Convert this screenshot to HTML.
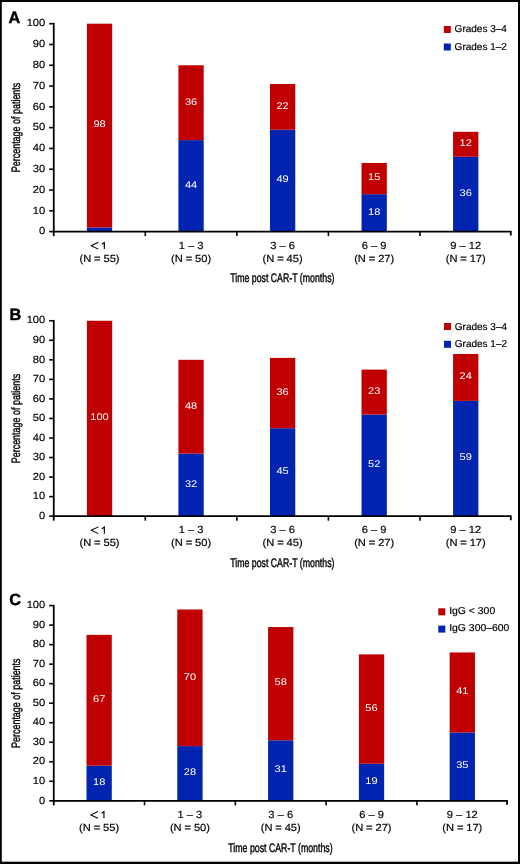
<!DOCTYPE html><html><head><meta charset="utf-8"><style>
html,body{margin:0;padding:0;background:#fff;}
body{width:520px;height:864px;overflow:hidden;position:relative;}
svg{position:absolute;left:0;top:0;will-change:transform;}
text{font-family:"Liberation Sans", sans-serif;text-rendering:geometricPrecision;}
</style></head><body>
<svg width="520" height="864" viewBox="0 0 520 864">
<rect x="0" y="0" width="520" height="864" fill="#fff"/>
<text x="8.60" y="22.90" font-size="16.30" font-weight="bold" fill="#000" stroke="#000" stroke-width="0.45">A</text>
<text transform="translate(20.3 127.45) rotate(-90) scale(0.734 1)" font-size="12.2" text-anchor="middle" fill="#000" stroke="#000" stroke-width="0.40">Percentage of patients</text>
<rect x="86.88" y="227.44" width="25.30" height="4.16" fill="#0023b0"/>
<rect x="86.88" y="23.70" width="25.30" height="203.74" fill="#c00000"/>
<text transform="translate(99.53 127.37) scale(1.140 1)" font-size="9.70" text-anchor="middle" fill="#fff" stroke="#fff" stroke-width="0.00" stroke-linejoin="round">98</text>
<path d="M98.33 242.30 L91.23 245.70 L98.33 249.10" stroke="#000" stroke-width="1.05" fill="none" stroke-linejoin="miter"/>
<path d="M101.93 244.20 L104.33 242.50 V249.10" stroke="#000" stroke-width="1.15" fill="none" stroke-linejoin="miter"/>
<text transform="translate(99.53 261.80) scale(1.080 1)" font-size="10.30" text-anchor="middle" fill="#000" stroke="#000" stroke-width="0.18" stroke-linejoin="round">(N <tspan font-weight="bold" dx="0.6">=</tspan><tspan dx="0.6"> </tspan>55)</text>
<rect x="178.42" y="140.12" width="25.30" height="91.48" fill="#0023b0"/>
<rect x="178.42" y="65.28" width="25.30" height="74.84" fill="#c00000"/>
<text transform="translate(191.07 187.66) scale(1.140 1)" font-size="9.70" text-anchor="middle" fill="#fff" stroke="#fff" stroke-width="0.00" stroke-linejoin="round">44</text>
<text transform="translate(191.07 104.50) scale(1.140 1)" font-size="9.70" text-anchor="middle" fill="#fff" stroke="#fff" stroke-width="0.00" stroke-linejoin="round">36</text>
<text transform="translate(191.07 248.90) scale(1.080 1)" font-size="10.30" text-anchor="middle" fill="#000" stroke="#000" stroke-width="0.18" stroke-linejoin="round">1 – 3</text>
<text transform="translate(191.07 261.80) scale(1.080 1)" font-size="10.30" text-anchor="middle" fill="#000" stroke="#000" stroke-width="0.18" stroke-linejoin="round">(N <tspan font-weight="bold" dx="0.6">=</tspan><tspan dx="0.6"> </tspan>50)</text>
<rect x="269.98" y="129.73" width="25.30" height="101.87" fill="#0023b0"/>
<rect x="269.98" y="83.99" width="25.30" height="45.74" fill="#c00000"/>
<text transform="translate(282.62 182.46) scale(1.140 1)" font-size="9.70" text-anchor="middle" fill="#fff" stroke="#fff" stroke-width="0.00" stroke-linejoin="round">49</text>
<text transform="translate(282.62 108.66) scale(1.140 1)" font-size="9.70" text-anchor="middle" fill="#fff" stroke="#fff" stroke-width="0.00" stroke-linejoin="round">22</text>
<text transform="translate(282.62 248.90) scale(1.080 1)" font-size="10.30" text-anchor="middle" fill="#000" stroke="#000" stroke-width="0.18" stroke-linejoin="round">3 – 6</text>
<text transform="translate(282.62 261.80) scale(1.080 1)" font-size="10.30" text-anchor="middle" fill="#000" stroke="#000" stroke-width="0.18" stroke-linejoin="round">(N <tspan font-weight="bold" dx="0.6">=</tspan><tspan dx="0.6"> </tspan>45)</text>
<rect x="361.53" y="194.18" width="25.30" height="37.42" fill="#0023b0"/>
<rect x="361.53" y="162.99" width="25.30" height="31.19" fill="#c00000"/>
<text transform="translate(374.18 214.69) scale(1.140 1)" font-size="9.70" text-anchor="middle" fill="#fff" stroke="#fff" stroke-width="0.00" stroke-linejoin="round">18</text>
<text transform="translate(374.18 180.39) scale(1.140 1)" font-size="9.70" text-anchor="middle" fill="#fff" stroke="#fff" stroke-width="0.00" stroke-linejoin="round">15</text>
<text transform="translate(374.18 248.90) scale(1.080 1)" font-size="10.30" text-anchor="middle" fill="#000" stroke="#000" stroke-width="0.18" stroke-linejoin="round">6 – 9</text>
<text transform="translate(374.18 261.80) scale(1.080 1)" font-size="10.30" text-anchor="middle" fill="#000" stroke="#000" stroke-width="0.18" stroke-linejoin="round">(N <tspan font-weight="bold" dx="0.6">=</tspan><tspan dx="0.6"> </tspan>27)</text>
<rect x="453.07" y="156.76" width="25.30" height="74.84" fill="#0023b0"/>
<rect x="453.07" y="131.81" width="25.30" height="24.95" fill="#c00000"/>
<text transform="translate(465.72 195.98) scale(1.140 1)" font-size="9.70" text-anchor="middle" fill="#fff" stroke="#fff" stroke-width="0.00" stroke-linejoin="round">36</text>
<text transform="translate(465.72 146.08) scale(1.140 1)" font-size="9.70" text-anchor="middle" fill="#fff" stroke="#fff" stroke-width="0.00" stroke-linejoin="round">12</text>
<text transform="translate(465.72 248.90) scale(1.080 1)" font-size="10.30" text-anchor="middle" fill="#000" stroke="#000" stroke-width="0.18" stroke-linejoin="round">9 – 12</text>
<text transform="translate(465.72 261.80) scale(1.080 1)" font-size="10.30" text-anchor="middle" fill="#000" stroke="#000" stroke-width="0.18" stroke-linejoin="round">(N <tspan font-weight="bold" dx="0.6">=</tspan><tspan dx="0.6"> </tspan>17)</text>
<path d="M53.75 22.90 V236.10" stroke="#000" stroke-width="1.8" fill="none"/>
<path d="M52.75 231.60 H510.80 V235.60" stroke="#000" stroke-width="1.8" fill="none"/>
<path d="M145.30 231.60 V236.10" stroke="#000" stroke-width="1.6" fill="none"/>
<path d="M236.85 231.60 V236.10" stroke="#000" stroke-width="1.6" fill="none"/>
<path d="M328.40 231.60 V236.10" stroke="#000" stroke-width="1.6" fill="none"/>
<path d="M419.95 231.60 V236.10" stroke="#000" stroke-width="1.6" fill="none"/>
<path d="M49.20 231.60 H53.75" stroke="#000" stroke-width="1.6" fill="none"/>
<text transform="translate(45.20 234.30) scale(1.080 1)" font-size="10.30" text-anchor="end" fill="#000" stroke="#000" stroke-width="0.18" stroke-linejoin="round">0</text>
<path d="M49.20 210.81 H53.75" stroke="#000" stroke-width="1.6" fill="none"/>
<text transform="translate(45.20 213.51) scale(1.080 1)" font-size="10.30" text-anchor="end" fill="#000" stroke="#000" stroke-width="0.18" stroke-linejoin="round">10</text>
<path d="M49.20 190.02 H53.75" stroke="#000" stroke-width="1.6" fill="none"/>
<text transform="translate(45.20 192.72) scale(1.080 1)" font-size="10.30" text-anchor="end" fill="#000" stroke="#000" stroke-width="0.18" stroke-linejoin="round">20</text>
<path d="M49.20 169.23 H53.75" stroke="#000" stroke-width="1.6" fill="none"/>
<text transform="translate(45.20 171.93) scale(1.080 1)" font-size="10.30" text-anchor="end" fill="#000" stroke="#000" stroke-width="0.18" stroke-linejoin="round">30</text>
<path d="M49.20 148.44 H53.75" stroke="#000" stroke-width="1.6" fill="none"/>
<text transform="translate(45.20 151.14) scale(1.080 1)" font-size="10.30" text-anchor="end" fill="#000" stroke="#000" stroke-width="0.18" stroke-linejoin="round">40</text>
<path d="M49.20 127.65 H53.75" stroke="#000" stroke-width="1.6" fill="none"/>
<text transform="translate(45.20 130.35) scale(1.080 1)" font-size="10.30" text-anchor="end" fill="#000" stroke="#000" stroke-width="0.18" stroke-linejoin="round">50</text>
<path d="M49.20 106.86 H53.75" stroke="#000" stroke-width="1.6" fill="none"/>
<text transform="translate(45.20 109.56) scale(1.080 1)" font-size="10.30" text-anchor="end" fill="#000" stroke="#000" stroke-width="0.18" stroke-linejoin="round">60</text>
<path d="M49.20 86.07 H53.75" stroke="#000" stroke-width="1.6" fill="none"/>
<text transform="translate(45.20 88.77) scale(1.080 1)" font-size="10.30" text-anchor="end" fill="#000" stroke="#000" stroke-width="0.18" stroke-linejoin="round">70</text>
<path d="M49.20 65.28 H53.75" stroke="#000" stroke-width="1.6" fill="none"/>
<text transform="translate(45.20 67.98) scale(1.080 1)" font-size="10.30" text-anchor="end" fill="#000" stroke="#000" stroke-width="0.18" stroke-linejoin="round">80</text>
<path d="M49.20 44.49 H53.75" stroke="#000" stroke-width="1.6" fill="none"/>
<text transform="translate(45.20 47.19) scale(1.080 1)" font-size="10.30" text-anchor="end" fill="#000" stroke="#000" stroke-width="0.18" stroke-linejoin="round">90</text>
<path d="M49.20 23.70 H53.75" stroke="#000" stroke-width="1.6" fill="none"/>
<text transform="translate(45.20 26.40) scale(1.080 1)" font-size="10.30" text-anchor="end" fill="#000" stroke="#000" stroke-width="0.18" stroke-linejoin="round">100</text>
<text transform="translate(282.32 281.90) scale(0.708 1)" font-size="12.4" text-anchor="middle" fill="#000" stroke="#000" stroke-width="0.40">Time post CAR-T (months)</text>
<rect x="443.80" y="26.00" width="7" height="7" fill="#c00000"/>
<text transform="translate(454.60 32.40) scale(1.000 1)" font-size="10.00" text-anchor="start" fill="#000" stroke="#000" stroke-width="0.18" stroke-linejoin="round">Grades 3–4</text>
<rect x="443.80" y="43.50" width="7" height="7" fill="#0023b0"/>
<text transform="translate(454.60 49.90) scale(1.000 1)" font-size="10.00" text-anchor="start" fill="#000" stroke="#000" stroke-width="0.18" stroke-linejoin="round">Grades 1–2</text>
<text x="9.50" y="319.70" font-size="16.30" font-weight="bold" fill="#000" stroke="#000" stroke-width="0.45">B</text>
<text transform="translate(20.3 418.50) rotate(-90) scale(0.734 1)" font-size="12.2" text-anchor="middle" fill="#000" stroke="#000" stroke-width="0.40">Percentage of patients</text>
<rect x="86.88" y="320.75" width="25.30" height="195.40" fill="#c00000"/>
<text transform="translate(99.53 420.25) scale(1.140 1)" font-size="9.70" text-anchor="middle" fill="#fff" stroke="#fff" stroke-width="0.00" stroke-linejoin="round">100</text>
<path d="M98.33 526.85 L91.23 530.25 L98.33 533.65" stroke="#000" stroke-width="1.05" fill="none" stroke-linejoin="miter"/>
<path d="M101.93 528.75 L104.33 527.05 V533.65" stroke="#000" stroke-width="1.15" fill="none" stroke-linejoin="miter"/>
<text transform="translate(99.53 546.35) scale(1.080 1)" font-size="10.30" text-anchor="middle" fill="#000" stroke="#000" stroke-width="0.18" stroke-linejoin="round">(N <tspan font-weight="bold" dx="0.6">=</tspan><tspan dx="0.6"> </tspan>55)</text>
<rect x="178.42" y="453.62" width="25.30" height="62.53" fill="#0023b0"/>
<rect x="178.42" y="359.83" width="25.30" height="93.79" fill="#c00000"/>
<text transform="translate(191.07 486.69) scale(1.140 1)" font-size="9.70" text-anchor="middle" fill="#fff" stroke="#fff" stroke-width="0.00" stroke-linejoin="round">32</text>
<text transform="translate(191.07 408.53) scale(1.140 1)" font-size="9.70" text-anchor="middle" fill="#fff" stroke="#fff" stroke-width="0.00" stroke-linejoin="round">48</text>
<text transform="translate(191.07 533.45) scale(1.080 1)" font-size="10.30" text-anchor="middle" fill="#000" stroke="#000" stroke-width="0.18" stroke-linejoin="round">1 – 3</text>
<text transform="translate(191.07 546.35) scale(1.080 1)" font-size="10.30" text-anchor="middle" fill="#000" stroke="#000" stroke-width="0.18" stroke-linejoin="round">(N <tspan font-weight="bold" dx="0.6">=</tspan><tspan dx="0.6"> </tspan>50)</text>
<rect x="269.98" y="428.22" width="25.30" height="87.93" fill="#0023b0"/>
<rect x="269.98" y="357.88" width="25.30" height="70.34" fill="#c00000"/>
<text transform="translate(282.62 473.98) scale(1.140 1)" font-size="9.70" text-anchor="middle" fill="#fff" stroke="#fff" stroke-width="0.00" stroke-linejoin="round">45</text>
<text transform="translate(282.62 394.85) scale(1.140 1)" font-size="9.70" text-anchor="middle" fill="#fff" stroke="#fff" stroke-width="0.00" stroke-linejoin="round">36</text>
<text transform="translate(282.62 533.45) scale(1.080 1)" font-size="10.30" text-anchor="middle" fill="#000" stroke="#000" stroke-width="0.18" stroke-linejoin="round">3 – 6</text>
<text transform="translate(282.62 546.35) scale(1.080 1)" font-size="10.30" text-anchor="middle" fill="#000" stroke="#000" stroke-width="0.18" stroke-linejoin="round">(N <tspan font-weight="bold" dx="0.6">=</tspan><tspan dx="0.6"> </tspan>45)</text>
<rect x="361.53" y="414.54" width="25.30" height="101.61" fill="#0023b0"/>
<rect x="361.53" y="369.60" width="25.30" height="44.94" fill="#c00000"/>
<text transform="translate(374.18 467.15) scale(1.140 1)" font-size="9.70" text-anchor="middle" fill="#fff" stroke="#fff" stroke-width="0.00" stroke-linejoin="round">52</text>
<text transform="translate(374.18 393.87) scale(1.140 1)" font-size="9.70" text-anchor="middle" fill="#fff" stroke="#fff" stroke-width="0.00" stroke-linejoin="round">23</text>
<text transform="translate(374.18 533.45) scale(1.080 1)" font-size="10.30" text-anchor="middle" fill="#000" stroke="#000" stroke-width="0.18" stroke-linejoin="round">6 – 9</text>
<text transform="translate(374.18 546.35) scale(1.080 1)" font-size="10.30" text-anchor="middle" fill="#000" stroke="#000" stroke-width="0.18" stroke-linejoin="round">(N <tspan font-weight="bold" dx="0.6">=</tspan><tspan dx="0.6"> </tspan>27)</text>
<rect x="453.07" y="400.86" width="25.30" height="115.29" fill="#0023b0"/>
<rect x="453.07" y="353.97" width="25.30" height="46.90" fill="#c00000"/>
<text transform="translate(465.72 460.31) scale(1.140 1)" font-size="9.70" text-anchor="middle" fill="#fff" stroke="#fff" stroke-width="0.00" stroke-linejoin="round">59</text>
<text transform="translate(465.72 379.22) scale(1.140 1)" font-size="9.70" text-anchor="middle" fill="#fff" stroke="#fff" stroke-width="0.00" stroke-linejoin="round">24</text>
<text transform="translate(465.72 533.45) scale(1.080 1)" font-size="10.30" text-anchor="middle" fill="#000" stroke="#000" stroke-width="0.18" stroke-linejoin="round">9 – 12</text>
<text transform="translate(465.72 546.35) scale(1.080 1)" font-size="10.30" text-anchor="middle" fill="#000" stroke="#000" stroke-width="0.18" stroke-linejoin="round">(N <tspan font-weight="bold" dx="0.6">=</tspan><tspan dx="0.6"> </tspan>17)</text>
<path d="M53.75 319.95 V520.65" stroke="#000" stroke-width="1.8" fill="none"/>
<path d="M52.75 516.15 H510.80 V520.15" stroke="#000" stroke-width="1.8" fill="none"/>
<path d="M145.30 516.15 V520.65" stroke="#000" stroke-width="1.6" fill="none"/>
<path d="M236.85 516.15 V520.65" stroke="#000" stroke-width="1.6" fill="none"/>
<path d="M328.40 516.15 V520.65" stroke="#000" stroke-width="1.6" fill="none"/>
<path d="M419.95 516.15 V520.65" stroke="#000" stroke-width="1.6" fill="none"/>
<path d="M49.20 516.15 H53.75" stroke="#000" stroke-width="1.6" fill="none"/>
<text transform="translate(45.20 518.85) scale(1.080 1)" font-size="10.30" text-anchor="end" fill="#000" stroke="#000" stroke-width="0.18" stroke-linejoin="round">0</text>
<path d="M49.20 496.61 H53.75" stroke="#000" stroke-width="1.6" fill="none"/>
<text transform="translate(45.20 499.31) scale(1.080 1)" font-size="10.30" text-anchor="end" fill="#000" stroke="#000" stroke-width="0.18" stroke-linejoin="round">10</text>
<path d="M49.20 477.07 H53.75" stroke="#000" stroke-width="1.6" fill="none"/>
<text transform="translate(45.20 479.77) scale(1.080 1)" font-size="10.30" text-anchor="end" fill="#000" stroke="#000" stroke-width="0.18" stroke-linejoin="round">20</text>
<path d="M49.20 457.53 H53.75" stroke="#000" stroke-width="1.6" fill="none"/>
<text transform="translate(45.20 460.23) scale(1.080 1)" font-size="10.30" text-anchor="end" fill="#000" stroke="#000" stroke-width="0.18" stroke-linejoin="round">30</text>
<path d="M49.20 437.99 H53.75" stroke="#000" stroke-width="1.6" fill="none"/>
<text transform="translate(45.20 440.69) scale(1.080 1)" font-size="10.30" text-anchor="end" fill="#000" stroke="#000" stroke-width="0.18" stroke-linejoin="round">40</text>
<path d="M49.20 418.45 H53.75" stroke="#000" stroke-width="1.6" fill="none"/>
<text transform="translate(45.20 421.15) scale(1.080 1)" font-size="10.30" text-anchor="end" fill="#000" stroke="#000" stroke-width="0.18" stroke-linejoin="round">50</text>
<path d="M49.20 398.91 H53.75" stroke="#000" stroke-width="1.6" fill="none"/>
<text transform="translate(45.20 401.61) scale(1.080 1)" font-size="10.30" text-anchor="end" fill="#000" stroke="#000" stroke-width="0.18" stroke-linejoin="round">60</text>
<path d="M49.20 379.37 H53.75" stroke="#000" stroke-width="1.6" fill="none"/>
<text transform="translate(45.20 382.07) scale(1.080 1)" font-size="10.30" text-anchor="end" fill="#000" stroke="#000" stroke-width="0.18" stroke-linejoin="round">70</text>
<path d="M49.20 359.83 H53.75" stroke="#000" stroke-width="1.6" fill="none"/>
<text transform="translate(45.20 362.53) scale(1.080 1)" font-size="10.30" text-anchor="end" fill="#000" stroke="#000" stroke-width="0.18" stroke-linejoin="round">80</text>
<path d="M49.20 340.29 H53.75" stroke="#000" stroke-width="1.6" fill="none"/>
<text transform="translate(45.20 342.99) scale(1.080 1)" font-size="10.30" text-anchor="end" fill="#000" stroke="#000" stroke-width="0.18" stroke-linejoin="round">90</text>
<path d="M49.20 320.75 H53.75" stroke="#000" stroke-width="1.6" fill="none"/>
<text transform="translate(45.20 323.45) scale(1.080 1)" font-size="10.30" text-anchor="end" fill="#000" stroke="#000" stroke-width="0.18" stroke-linejoin="round">100</text>
<text transform="translate(282.32 566.90) scale(0.708 1)" font-size="12.4" text-anchor="middle" fill="#000" stroke="#000" stroke-width="0.40">Time post CAR-T (months)</text>
<rect x="444.00" y="323.00" width="7" height="7" fill="#c00000"/>
<text transform="translate(454.80 329.60) scale(1.000 1)" font-size="10.00" text-anchor="start" fill="#000" stroke="#000" stroke-width="0.18" stroke-linejoin="round">Grades 3–4</text>
<rect x="444.00" y="340.80" width="7" height="7" fill="#0023b0"/>
<text transform="translate(454.80 347.40) scale(1.000 1)" font-size="10.00" text-anchor="start" fill="#000" stroke="#000" stroke-width="0.18" stroke-linejoin="round">Grades 1–2</text>
<text x="9.20" y="604.50" font-size="16.30" font-weight="bold" fill="#000" stroke="#000" stroke-width="0.45">C</text>
<text transform="translate(20.3 703.20) rotate(-90) scale(0.734 1)" font-size="12.2" text-anchor="middle" fill="#000" stroke="#000" stroke-width="0.40">Percentage of patients</text>
<rect x="86.49" y="765.66" width="25.30" height="35.14" fill="#0023b0"/>
<rect x="86.49" y="634.88" width="25.30" height="130.78" fill="#c00000"/>
<text transform="translate(99.14 785.03) scale(1.140 1)" font-size="9.70" text-anchor="middle" fill="#fff" stroke="#fff" stroke-width="0.00" stroke-linejoin="round">18</text>
<text transform="translate(99.14 702.07) scale(1.140 1)" font-size="9.70" text-anchor="middle" fill="#fff" stroke="#fff" stroke-width="0.00" stroke-linejoin="round">67</text>
<path d="M97.94 811.50 L90.84 814.90 L97.94 818.30" stroke="#000" stroke-width="1.05" fill="none" stroke-linejoin="miter"/>
<path d="M101.55 813.40 L103.94 811.70 V818.30" stroke="#000" stroke-width="1.15" fill="none" stroke-linejoin="miter"/>
<text transform="translate(99.14 831.00) scale(1.080 1)" font-size="10.30" text-anchor="middle" fill="#000" stroke="#000" stroke-width="0.18" stroke-linejoin="round">(N <tspan font-weight="bold" dx="0.6">=</tspan><tspan dx="0.6"> </tspan>55)</text>
<rect x="177.28" y="746.14" width="25.30" height="54.66" fill="#0023b0"/>
<rect x="177.28" y="609.50" width="25.30" height="136.64" fill="#c00000"/>
<text transform="translate(189.94 775.27) scale(1.140 1)" font-size="9.70" text-anchor="middle" fill="#fff" stroke="#fff" stroke-width="0.00" stroke-linejoin="round">28</text>
<text transform="translate(189.94 679.62) scale(1.140 1)" font-size="9.70" text-anchor="middle" fill="#fff" stroke="#fff" stroke-width="0.00" stroke-linejoin="round">70</text>
<text transform="translate(189.94 818.10) scale(1.080 1)" font-size="10.30" text-anchor="middle" fill="#000" stroke="#000" stroke-width="0.18" stroke-linejoin="round">1 – 3</text>
<text transform="translate(189.94 831.00) scale(1.080 1)" font-size="10.30" text-anchor="middle" fill="#000" stroke="#000" stroke-width="0.18" stroke-linejoin="round">(N <tspan font-weight="bold" dx="0.6">=</tspan><tspan dx="0.6"> </tspan>50)</text>
<rect x="268.07" y="740.29" width="25.30" height="60.51" fill="#0023b0"/>
<rect x="268.07" y="627.07" width="25.30" height="113.22" fill="#c00000"/>
<text transform="translate(280.72 772.34) scale(1.140 1)" font-size="9.70" text-anchor="middle" fill="#fff" stroke="#fff" stroke-width="0.00" stroke-linejoin="round">31</text>
<text transform="translate(280.72 685.48) scale(1.140 1)" font-size="9.70" text-anchor="middle" fill="#fff" stroke="#fff" stroke-width="0.00" stroke-linejoin="round">58</text>
<text transform="translate(280.72 818.10) scale(1.080 1)" font-size="10.30" text-anchor="middle" fill="#000" stroke="#000" stroke-width="0.18" stroke-linejoin="round">3 – 6</text>
<text transform="translate(280.72 831.00) scale(1.080 1)" font-size="10.30" text-anchor="middle" fill="#000" stroke="#000" stroke-width="0.18" stroke-linejoin="round">(N <tspan font-weight="bold" dx="0.6">=</tspan><tspan dx="0.6"> </tspan>45)</text>
<rect x="358.87" y="763.71" width="25.30" height="37.09" fill="#0023b0"/>
<rect x="358.87" y="654.40" width="25.30" height="109.31" fill="#c00000"/>
<text transform="translate(371.51 784.06) scale(1.140 1)" font-size="9.70" text-anchor="middle" fill="#fff" stroke="#fff" stroke-width="0.00" stroke-linejoin="round">19</text>
<text transform="translate(371.51 710.86) scale(1.140 1)" font-size="9.70" text-anchor="middle" fill="#fff" stroke="#fff" stroke-width="0.00" stroke-linejoin="round">56</text>
<text transform="translate(371.51 818.10) scale(1.080 1)" font-size="10.30" text-anchor="middle" fill="#000" stroke="#000" stroke-width="0.18" stroke-linejoin="round">6 – 9</text>
<text transform="translate(371.51 831.00) scale(1.080 1)" font-size="10.30" text-anchor="middle" fill="#000" stroke="#000" stroke-width="0.18" stroke-linejoin="round">(N <tspan font-weight="bold" dx="0.6">=</tspan><tspan dx="0.6"> </tspan>27)</text>
<rect x="449.65" y="732.48" width="25.30" height="68.32" fill="#0023b0"/>
<rect x="449.65" y="652.45" width="25.30" height="80.03" fill="#c00000"/>
<text transform="translate(462.30 768.44) scale(1.140 1)" font-size="9.70" text-anchor="middle" fill="#fff" stroke="#fff" stroke-width="0.00" stroke-linejoin="round">35</text>
<text transform="translate(462.30 694.26) scale(1.140 1)" font-size="9.70" text-anchor="middle" fill="#fff" stroke="#fff" stroke-width="0.00" stroke-linejoin="round">41</text>
<text transform="translate(462.30 818.10) scale(1.080 1)" font-size="10.30" text-anchor="middle" fill="#000" stroke="#000" stroke-width="0.18" stroke-linejoin="round">9 – 12</text>
<text transform="translate(462.30 831.00) scale(1.080 1)" font-size="10.30" text-anchor="middle" fill="#000" stroke="#000" stroke-width="0.18" stroke-linejoin="round">(N <tspan font-weight="bold" dx="0.6">=</tspan><tspan dx="0.6"> </tspan>17)</text>
<path d="M53.75 604.80 V805.30" stroke="#000" stroke-width="1.8" fill="none"/>
<path d="M52.75 800.80 H507.00 V804.80" stroke="#000" stroke-width="1.8" fill="none"/>
<path d="M144.54 800.80 V805.30" stroke="#000" stroke-width="1.6" fill="none"/>
<path d="M235.33 800.80 V805.30" stroke="#000" stroke-width="1.6" fill="none"/>
<path d="M326.12 800.80 V805.30" stroke="#000" stroke-width="1.6" fill="none"/>
<path d="M416.91 800.80 V805.30" stroke="#000" stroke-width="1.6" fill="none"/>
<path d="M49.20 800.80 H53.75" stroke="#000" stroke-width="1.6" fill="none"/>
<text transform="translate(45.20 803.50) scale(1.080 1)" font-size="10.30" text-anchor="end" fill="#000" stroke="#000" stroke-width="0.18" stroke-linejoin="round">0</text>
<path d="M49.20 781.28 H53.75" stroke="#000" stroke-width="1.6" fill="none"/>
<text transform="translate(45.20 783.98) scale(1.080 1)" font-size="10.30" text-anchor="end" fill="#000" stroke="#000" stroke-width="0.18" stroke-linejoin="round">10</text>
<path d="M49.20 761.76 H53.75" stroke="#000" stroke-width="1.6" fill="none"/>
<text transform="translate(45.20 764.46) scale(1.080 1)" font-size="10.30" text-anchor="end" fill="#000" stroke="#000" stroke-width="0.18" stroke-linejoin="round">20</text>
<path d="M49.20 742.24 H53.75" stroke="#000" stroke-width="1.6" fill="none"/>
<text transform="translate(45.20 744.94) scale(1.080 1)" font-size="10.30" text-anchor="end" fill="#000" stroke="#000" stroke-width="0.18" stroke-linejoin="round">30</text>
<path d="M49.20 722.72 H53.75" stroke="#000" stroke-width="1.6" fill="none"/>
<text transform="translate(45.20 725.42) scale(1.080 1)" font-size="10.30" text-anchor="end" fill="#000" stroke="#000" stroke-width="0.18" stroke-linejoin="round">40</text>
<path d="M49.20 703.20 H53.75" stroke="#000" stroke-width="1.6" fill="none"/>
<text transform="translate(45.20 705.90) scale(1.080 1)" font-size="10.30" text-anchor="end" fill="#000" stroke="#000" stroke-width="0.18" stroke-linejoin="round">50</text>
<path d="M49.20 683.68 H53.75" stroke="#000" stroke-width="1.6" fill="none"/>
<text transform="translate(45.20 686.38) scale(1.080 1)" font-size="10.30" text-anchor="end" fill="#000" stroke="#000" stroke-width="0.18" stroke-linejoin="round">60</text>
<path d="M49.20 664.16 H53.75" stroke="#000" stroke-width="1.6" fill="none"/>
<text transform="translate(45.20 666.86) scale(1.080 1)" font-size="10.30" text-anchor="end" fill="#000" stroke="#000" stroke-width="0.18" stroke-linejoin="round">70</text>
<path d="M49.20 644.64 H53.75" stroke="#000" stroke-width="1.6" fill="none"/>
<text transform="translate(45.20 647.34) scale(1.080 1)" font-size="10.30" text-anchor="end" fill="#000" stroke="#000" stroke-width="0.18" stroke-linejoin="round">80</text>
<path d="M49.20 625.12 H53.75" stroke="#000" stroke-width="1.6" fill="none"/>
<text transform="translate(45.20 627.82) scale(1.080 1)" font-size="10.30" text-anchor="end" fill="#000" stroke="#000" stroke-width="0.18" stroke-linejoin="round">90</text>
<path d="M49.20 605.60 H53.75" stroke="#000" stroke-width="1.6" fill="none"/>
<text transform="translate(45.20 608.30) scale(1.080 1)" font-size="10.30" text-anchor="end" fill="#000" stroke="#000" stroke-width="0.18" stroke-linejoin="round">100</text>
<text transform="translate(280.43 851.70) scale(0.708 1)" font-size="12.4" text-anchor="middle" fill="#000" stroke="#000" stroke-width="0.40">Time post CAR-T (months)</text>
<rect x="438.30" y="608.30" width="7" height="7" fill="#c00000"/>
<text transform="translate(449.20 614.10) scale(1.040 1)" font-size="10.00" text-anchor="start" fill="#000" stroke="#000" stroke-width="0.18" stroke-linejoin="round">IgG &lt; 300</text>
<rect x="438.30" y="625.60" width="7" height="7" fill="#0023b0"/>
<text transform="translate(449.20 631.40) scale(1.040 1)" font-size="10.00" text-anchor="start" fill="#000" stroke="#000" stroke-width="0.18" stroke-linejoin="round">IgG 300–600</text>
<rect x="0" y="0" width="520" height="2.0" fill="#000"/>
<rect x="0" y="861.7" width="520" height="2.3" fill="#000"/>
<rect x="0" y="0" width="1.8" height="864" fill="#000"/>
<rect x="518.0" y="0" width="2.0" height="864" fill="#000"/>
</svg></body></html>
